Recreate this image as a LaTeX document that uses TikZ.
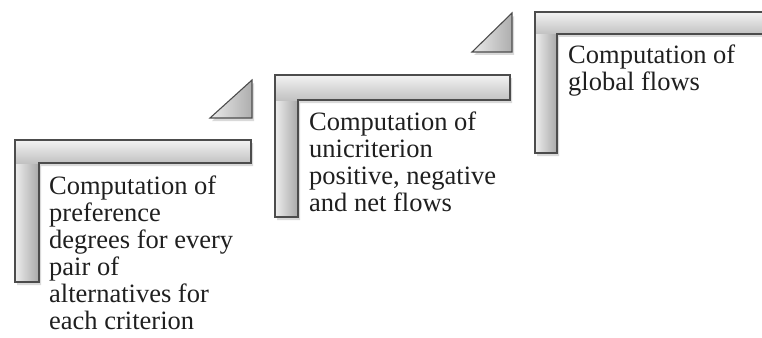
\documentclass[tikz,border=0pt]{standalone}
\usepackage{fontspec}
\setmainfont{Liberation Serif}

\tikzset{
  edge line/.style={draw=black!70, line width=1.1pt, line join=miter},
  bar shade/.style={top color=black!5, bottom color=black!24},
  post shade/.style={left color=black!7, right color=black!34},
  drop/.style={fill=black, opacity=0.15},
  steptext/.style={anchor=north west, inner sep=0pt, align=left,
    text=black!88, font=\fontsize{26.5}{27}\selectfont},
}

% One corner bracket: left x, top y, right x, inner x, bar bottom y, foot y
\newcommand\cornerbracket[6]{%
  \fill[drop] (#1+2,#2+3) -- (#3+2,#2+3) -- (#3+2,#5+3) -- (#4+2,#5+3)
    -- (#4+2,#6+3) -- (#1+2,#6+3) -- cycle;
  \shade[post shade] (#1,#5) rectangle (#4,#6);
  \shade[bar shade] (#1,#2) rectangle (#3,#5);
  \draw[edge line] (#1,#2) -- (#3,#2) -- (#3,#5) -- (#4,#5)
    -- (#4,#6) -- (#1,#6) -- cycle;
}

% Small right triangle: left x, base y, right x, apex y
\newcommand\cornerwedge[4]{%
  \fill[drop] (#1+2,#2+3) -- (#3+2,#2+3) -- (#3+2,#4+3) -- cycle;
  \shade[left color=black!8, right color=black!32] (#1,#2) -- (#3,#2) -- (#3,#4) -- cycle;
  \draw[edge line] (#1,#2) -- (#3,#2) -- (#3,#4) -- cycle;
}

\begin{document}
\begin{tikzpicture}[x=1pt,y=-1pt]
  \useasboundingbox (0,0) rectangle (762,337);

  % brackets rising left to right
  \cornerbracket{15}{140}{251}{39}{163}{282}
  \cornerbracket{275}{75}{510}{298}{100}{217}
  \cornerbracket{535}{12}{775}{557}{34}{153}

  % wedges between the steps
  \cornerwedge{210}{118}{252}{80}
  \cornerwedge{472}{52}{512}{13}

  % step labels
  \node[steptext] (t1) at (49,176) {Computation of\\preference\\degrees for every\\pair of\\alternatives for\\each criterion};
  \node[steptext] (t2) at (309,112) {Computation of\\unicriterion\\positive, negative\\and net flows};
  \node[steptext] (t3) at (568,45) {Computation of\\global flows};
\end{tikzpicture}
\end{document}
